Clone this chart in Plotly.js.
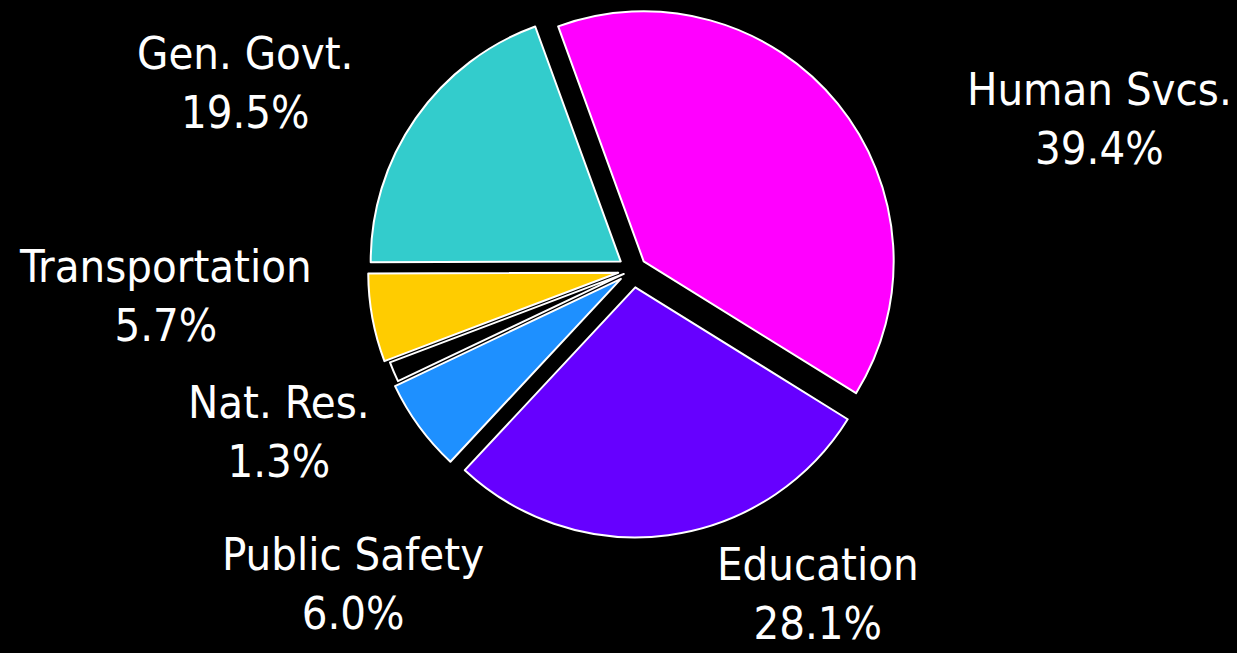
<!DOCTYPE html>
<html>
<head>
<meta charset="utf-8">
<script src="https://cdn.plot.ly/plotly-3.0.1.min.js"></script>
<style>html,body{margin:0;padding:0;background:#000;}#chart{width:1237px;height:653px;}</style>
</head>
<body>
<div id="chart"></div>
<script>
// Data
const categories = ["Human Svcs.", "Education", "Public Safety", "Nat. Res.", "Transportation", "Gen. Govt."];
const shares = [39.4, 28.1, 6.0, 1.3, 5.7, 19.5];
const colors = ["#FF00FF", "#6600FF", "#1E90FF", "#000000", "#FFCC00", "#33CCCC"];
const pulls = [0.055, 0.07, 0.06, 0.04, 0.06, 0.06];
// Label placement (pixel centers on the 1237x653 canvas)
const labelX = [1099, 818, 353, 279, 165, 245];
const labelY = [119, 594, 584, 432, 296, 83];

const W = 1237, H = 653;
const FONT = '"Liberation Sans Narrow", "Arial Narrow", "DejaVu Sans Condensed", sans-serif';

const annotations = categories.map((c, i) => ({
  text: c + '<br>' + shares[i].toFixed(1) + '%',
  x: labelX[i] / W, y: 1 - labelY[i] / H,
  xref: 'paper', yref: 'paper', xanchor: 'center', yanchor: 'middle',
  showarrow: false, align: 'center',
  font: {family: FONT, size: 45, color: '#FFFFFF'}
}));

const trace = {
  type: 'pie',
  labels: categories,
  values: shares,
  sort: false,
  direction: 'clockwise',
  rotation: -20,
  pull: pulls,
  marker: {colors: colors, line: {color: '#FFFFFF', width: 2}},
  textinfo: 'none',
  hoverinfo: 'label+percent',
  domain: {x: [365.5 / W, 900.5 / W], y: [(H - 539) / H, (H - 1) / H]}
};

const layout = {
  width: W, height: H,
  paper_bgcolor: '#000000', plot_bgcolor: '#000000',
  margin: {l: 0, r: 0, t: 0, b: 0},
  showlegend: false,
  annotations: annotations
};

Plotly.newPlot('chart', [trace], layout, {displayModeBar: false, staticPlot: true});
</script>
</body>
</html>
